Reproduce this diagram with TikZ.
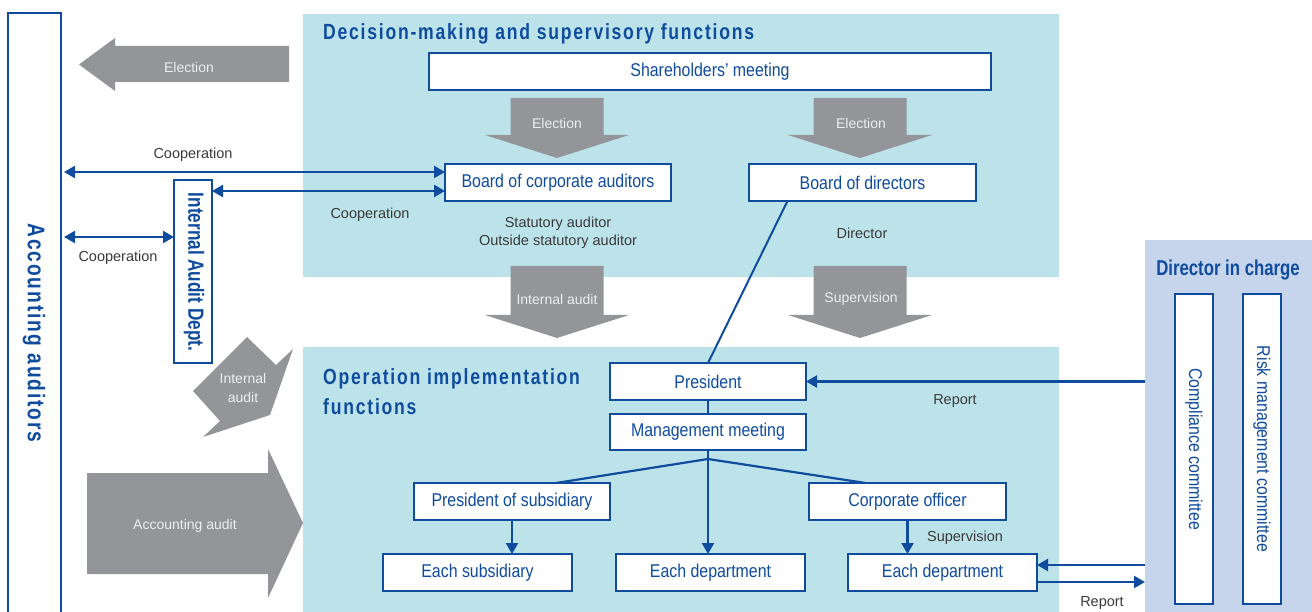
\documentclass[tikz,border=0pt]{standalone}
\usepackage{fontspec}
\setmainfont{Liberation Sans}
\newfontfamily\condf{Liberation Sans}[FakeStretch=0.86]
\newfontfamily\narrowf{Liberation Sans}[FakeStretch=0.78]
\newfontfamily\headf{Liberation Sans}[FakeStretch=0.8,LetterSpace=8]
\usetikzlibrary{arrows.meta}

\definecolor{navy}{HTML}{0F4C9E}
\definecolor{panelcyan}{HTML}{BDE3EA}
\definecolor{panelblue}{HTML}{C6D4EC}
\definecolor{arrowgray}{HTML}{939598}
\definecolor{labelgray}{HTML}{3A3A3A}
\definecolor{arrowtext}{HTML}{EEEEEE}

\tikzset{
  panel/.style={inner sep=0, outer sep=0, draw=none},
  box/.style={draw=navy, line width=1.3, fill=white, inner sep=0, outer sep=0,
    text=navy, font=\condf\fontsize{18.5}{20}\selectfont},
  vtext/.style={rotate=-90, text=navy, inner sep=0},
  link/.style={draw=navy, line width=2.2},
  conn/.style={draw=navy, line width=2.4, arrows={-Triangle[length=11pt,width=12pt]}},
  both/.style={draw=navy, line width=2.4,
    arrows={Triangle[length=11pt,width=12pt]-Triangle[length=11pt,width=12pt]}},
  lbl/.style={text=labelgray, inner sep=0, font=\fontsize{14.5}{17}\selectfont},
  graylbl/.style={text=arrowtext, inner sep=0, align=center, font=\fontsize{14}{18}\selectfont},
  heading/.style={text=navy, inner sep=0, align=left,
    font=\headf\bfseries\fontsize{22}{30}\selectfont},
}

\begin{document}
\begin{tikzpicture}[x=1pt,y=-1pt]
\useasboundingbox (0,0) rectangle (1312,612);

% background panels
\node[panel, fill=panelcyan, minimum width=756, minimum height=263, anchor=north west] (dec) at (303,14) {};
\node[panel, fill=panelcyan, minimum width=756, minimum height=270, anchor=north west] (ops) at (303,347) {};
\node[panel, fill=panelblue, minimum width=167, minimum height=375, anchor=north west] (dic) at (1145,240) {};

% block arrows
\fill[arrowgray] (289,46) -- (115,46) -- (115,38) -- (79,64.5) -- (115,91) -- (115,82) -- (289,82) -- cycle;
\node[graylbl] (el0) at (189,67) {Election};

\fill[arrowgray] (510.5,98) -- (603.5,98) -- (603.5,135) -- (629,135) -- (557,158) -- (485,135) -- (510.5,135) -- cycle;
\node[graylbl] (el1) at (557,123) {Election};
\fill[arrowgray] (813.5,98) -- (906.5,98) -- (906.5,135) -- (932,135) -- (860,158) -- (788,135) -- (813.5,135) -- cycle;
\node[graylbl] (el2) at (861,123) {Election};

\fill[arrowgray] (510.5,266) -- (603.5,266) -- (603.5,315) -- (629,315) -- (557,338) -- (485,315) -- (510.5,315) -- cycle;
\node[graylbl] (ia1) at (557,299) {Internal audit};
\fill[arrowgray] (813.5,266) -- (906.5,266) -- (906.5,315) -- (932,315) -- (860,338) -- (788,315) -- (813.5,315) -- cycle;
\node[graylbl] (sv1) at (861,299) {Supervision};

\fill[arrowgray] (247,337) -- (276,365) -- (293,349) -- (270,415) -- (203,437) -- (220,421) -- (193,391) -- cycle;
\node[graylbl, font=\fontsize{14}{19}\selectfont] (ia2) at (243,388) {Internal\\audit};

\fill[arrowgray] (87,473) -- (268,473) -- (268,449) -- (303,523) -- (268,598) -- (268,574) -- (87,574) -- cycle;
\node[graylbl] (aa) at (185,526) {Accounting audit};

% headings
\node[heading, anchor=west] (h1) at (323,34) {Decision-making and supervisory functions};
\node[heading, anchor=north west] (h2) at (323,368) {Operation implementation\\functions};
\node[text=navy, inner sep=0, font=\narrowf\bfseries\fontsize{21.5}{22}\selectfont] (h3) at (1228,270) {Director in charge};

% side boxes
\node[box, minimum width=53, minimum height=602, anchor=north west] (acc) at (8,13) {};
\node[vtext, font=\headf\bfseries\fontsize{24}{24}\selectfont] (acct) at (34,333) {Accounting auditors};
\node[box, minimum width=38, minimum height=183] (iad) at (193,271.5) {};
\node[vtext, font=\narrowf\bfseries\fontsize{22}{22}\selectfont] (iadt) at (194,272) {Internal Audit Dept.};
\node[box, minimum width=38, minimum height=310] (cc) at (1194,449) {};
\node[vtext, font=\condf\fontsize{18.5}{20}\selectfont] (cct) at (1194,449) {Compliance committee};
\node[box, minimum width=38, minimum height=310] (rm) at (1262,449) {};
\node[vtext, font=\condf\fontsize{18.5}{20}\selectfont] (rmt) at (1262,449) {Risk management committee};

% organisation boxes
\node[box, minimum width=562, minimum height=37] (sh) at (710,71.5) {Shareholders’ meeting};
\node[box, minimum width=226, minimum height=37] (bca) at (558,182.5) {Board of corporate auditors};
\node[box, minimum width=227, minimum height=37] (bod) at (862.5,182.5) {Board of directors};
\node[box, minimum width=196, minimum height=37] (pres) at (708,381.5) {President};
\node[box, minimum width=196, minimum height=36] (mm) at (708,432) {Management meeting};
\node[box, minimum width=196, minimum height=37] (ps) at (512,501.5) {President of subsidiary};
\node[box, minimum width=197, minimum height=37] (co) at (907.5,501.5) {Corporate officer};
\node[box, minimum width=189, minimum height=37] (es) at (477.5,572.5) {Each subsidiary};
\node[box, minimum width=189, minimum height=37] (ed2) at (710.5,572.5) {Each department};
\node[box, minimum width=189, minimum height=37] (ed3) at (942.5,572.5) {Each department};

% labels
\node[lbl] (coop1) at (193,155) {Cooperation};
\node[lbl] (coop2) at (370,215) {Cooperation};
\node[lbl] (coop3) at (118,258) {Cooperation};
\node[lbl, align=center, font=\fontsize{14.5}{18}\selectfont] (stat) at (558,233) {Statutory auditor\\Outside statutory auditor};
\node[lbl] (dirl) at (862,233) {Director};
\node[lbl] (rep1) at (955,401) {Report};
\node[lbl] (rep2) at (1102,603) {Report};
\node[lbl] (sup2) at (965,538) {Supervision};

% cooperation links
\coordinate (c1) at ([yshift=10.5pt]bca.west);
\draw[both, shorten <=3pt] (c1 -| acc.east) -- (c1);
\coordinate (c2) at ([yshift=-8.5pt]bca.west);
\draw[both] (c2 -| iad.east) -- (c2);
\coordinate (c3) at ([yshift=34.5pt]iad.west);
\draw[both, shorten <=3pt] (c3 -| acc.east) -- (c3);

% reporting lines
\draw[conn] (pres.east -| dic.west) -- (pres.east);
\coordinate (c4) at ([yshift=7.5pt]ed3.east);
\draw[conn] (c4 -| dic.west) -- (c4);
\coordinate (c5) at ([yshift=-9.5pt]ed3.east);
\draw[conn] (c5) -- (c5 -| dic.west);

% management tree
\draw[link, line width=2] ([xshift=-75pt]bod.south) -- (pres.north);
\draw[link] (pres.south) -- (mm.north);
\coordinate (br) at ([yshift=-9pt]mm.south);
\draw[link] (mm.south) -- (br);
\draw[link] (br) -- ([xshift=44pt]ps.north);
\draw[link] (br) -- ([xshift=-42pt]co.north);
\draw[conn] (br) -- (br |- ed2.north);
\draw[conn] (ps.south) -- (ps.south |- es.north);
\draw[conn] (co.south) -- (co.south |- ed3.north);
\end{tikzpicture}
\end{document}
